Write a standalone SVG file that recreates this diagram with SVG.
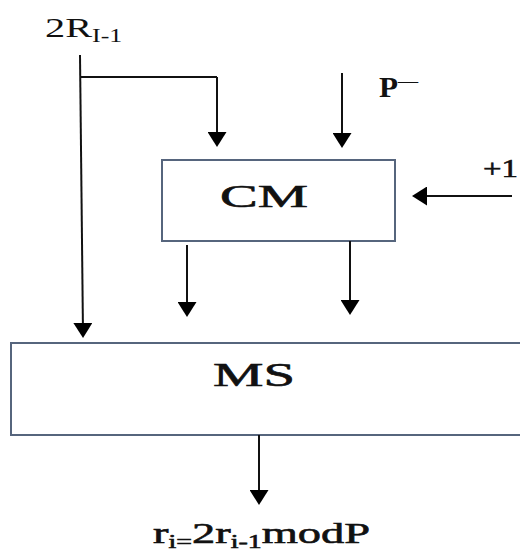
<svg xmlns="http://www.w3.org/2000/svg" width="520" height="551" viewBox="0 0 520 551">
  <defs>
    <marker id="ah" viewBox="0 0 15 19" refX="11" refY="9.5" markerWidth="15" markerHeight="19" markerUnits="userSpaceOnUse" orient="auto">
      <path d="M0,0 L15,9.5 L0,19 z" fill="#000"/>
    </marker>
    <style>
      .box { fill: #fff; stroke: #56657d; stroke-width: 2; }
      .wire { fill: none; stroke: #111; stroke-width: 2; }
      .arr { fill: none; stroke: #111; stroke-width: 2; marker-end: url(#ah); }
      text { font-family: "Liberation Serif", "Times New Roman", serif; fill: #111; }
      .heavy { stroke: #111; stroke-width: 0.6; }
    </style>
  </defs>
  <rect width="520" height="551" fill="#fff"/>

  <g id="node-CM">
    <rect class="box" x="162" y="160" width="233" height="81"/>
    <text class="heavy" x="220" y="207" font-size="32" textLength="88" lengthAdjust="spacingAndGlyphs">CM</text>
  </g>

  <g id="node-MS">
    <rect class="box" x="11" y="343" width="520" height="92"/>
    <text class="heavy" x="213" y="386" font-size="33" textLength="82" lengthAdjust="spacingAndGlyphs">MS</text>
  </g>

  <g id="label-2R">
    <text transform="translate(45,37) scale(1.44,1)" font-size="28">2R<tspan font-size="18" dy="5">I-1</tspan></text>
  </g>

  <g id="label-P">
    <text x="379" y="97" font-size="30" font-weight="bold" textLength="19" lengthAdjust="spacingAndGlyphs">P</text>
    <text x="398" y="88" font-size="22" textLength="20" lengthAdjust="spacingAndGlyphs">–</text>
  </g>

  <g id="label-plus1">
    <text class="heavy" x="483" y="177" font-size="26" textLength="35" lengthAdjust="spacingAndGlyphs">+1</text>
  </g>

  <g id="label-out">
    <text class="heavy" transform="translate(153,543) scale(1.55,1)" font-size="30" stroke-width="0.4">r<tspan font-size="18" dy="5">i=</tspan><tspan dy="-5">2r</tspan><tspan font-size="18" dy="5">i-1</tspan><tspan dy="-5">modP</tspan></text>
  </g>

  <g id="connectors">
    <path class="arr" d="M80,55 L83,334"/>
    <path class="wire" d="M80,77 L217,77"/>
    <path class="arr" d="M217,77 L217,143"/>
    <path class="arr" d="M342,73 L342,144"/>
    <path class="arr" d="M512,196 L416,196"/>
    <path class="arr" d="M187,245 L187,313"/>
    <path class="arr" d="M350,241 L350,311"/>
    <path class="arr" d="M259,435 L259,501"/>
  </g>
</svg>
